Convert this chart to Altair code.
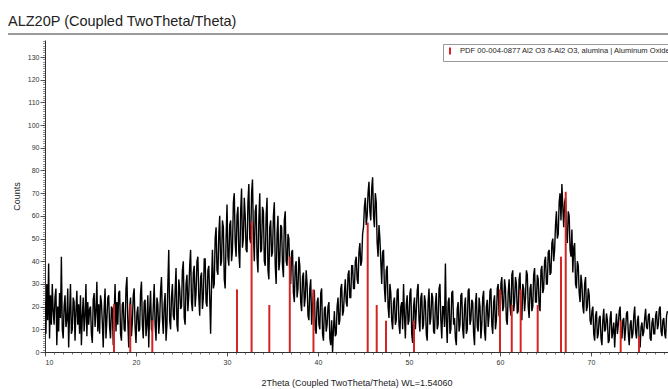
import altair as alt
import pandas as pd

TITLE = "ALZ20P (Coupled TwoTheta/Theta)"
X_TITLE = "2Theta (Coupled TwoTheta/Theta) WL=1.54060"
Y_TITLE = "Counts"
REF_NAME = "PDF 00-004-0877 Al2 O3 \u03b4-Al2 O3, alumina | Aluminum Oxide"

# scan grid (instrument step)
SCAN_START = 10.0
SCAN_STEP = 0.1

# counts, 10 per degree
counts = [
    22, 8, 30, 14, 39, 6, 25, 12, 30, 18,      # 10
    12, 24, 28, 3, 20, 9, 26, 15, 42, 10,      # 11
    6, 20, 25, 11, 14, 28, 2, 17, 30, 8,       # 12
    10, 24, 22, 5, 18, 27, 12, 21, 8, 25,      # 13
    3, 16, 24, 9, 16, 30, 7, 22, 12, 19,       # 14
    20, 8, 4, 23, 26, 11, 18, 31, 9, 21,       # 15
    8, 25, 22, 13, 2, 19, 28, 6, 14, 24,       # 16
    25, 11, 6, 20, 19, 3, 16, 30, 9, 22,       # 17
    12, 26, 27, 8, 5, 21, 22, 10, 9, 28,       # 18
    33, 14, 2, 19, 24, 7, 13, 25, 28, 11,      # 19
    4, 17, 20, 9, 10, 26, 31, 12, 6, 22,       # 20
    23, 7, 12, 25, 2, 18, 27, 10, 9, 20,       # 21
    30, 12, 5, 24, 21, 8, 14, 27, 33, 15,      # 22
    8, 21, 26, 5, 12, 30, 45, 14, 10, 24,      # 23
    30, 16, 14, 27, 37, 12, 9, 32, 28, 19,     # 24
    20, 36, 40, 15, 12, 30, 34, 18, 25, 38,    # 25
    45, 22, 18, 35, 38, 20, 26, 40, 42, 24,    # 26
    16, 33, 35, 19, 24, 41, 41, 22, 20, 36,    # 27
    38, 24, 8, 30, 45, 28, 30, 50, 55, 36,     # 28
    34, 52, 60, 38, 40, 58, 55, 32, 28, 50,    # 29
    65, 42, 38, 56, 58, 40, 45, 66, 70, 48,    # 30
    42, 60, 64, 44, 37, 62, 72, 46, 50, 68,    # 31
    60, 45, 44, 66, 74, 50, 48, 70, 76, 52,    # 32
    40, 62, 65, 42, 35, 58, 70, 44, 45, 64,    # 33
    62, 40, 38, 60, 68, 36, 32, 55, 58, 42,    # 34
    44, 60, 66, 38, 30, 52, 60, 36, 40, 56,    # 35
    55, 38, 33, 58, 62, 40, 38, 52, 50, 34,    # 36
    30, 44, 45, 26, 22, 38, 40, 24, 28, 42,    # 37
    38, 22, 18, 33, 35, 20, 24, 36, 30, 16,    # 38
    14, 28, 32, 12, 20, 27, 27, 10, 8, 22,     # 39
    24, 12, 10, 26, 28, 8, 5, 19, 20, 9,       # 40
    12, 20, 22, 6, 3, 14, 0, 10, 18, 7,        # 41
    8, 20, 24, 12, 14, 28, 30, 16, 18, 26,     # 42
    32, 22, 20, 34, 36, 24, 24, 38, 38, 28,    # 43
    28, 40, 42, 32, 30, 44, 48, 38, 40, 52,    # 44
    55, 64, 68, 56, 60, 70, 75, 62, 58, 72,    # 45
    77, 60, 55, 70, 66, 48, 42, 56, 50, 40,    # 46
    30, 44, 45, 28, 22, 36, 38, 20, 15, 30,    # 47
    26, 14, 10, 22, 24, 12, 14, 27, 28, 12,    # 48
    8, 20, 22, 10, 30, 16, 6, 21, 25, 12,      # 49
    14, 26, 28, 8, 4, 20, 24, 10, 18, 27,      # 50
    30, 14, 9, 24, 26, 10, 12, 25, 22, 8,      # 51
    5, 22, 28, 12, 15, 26, 24, 9, 8, 21,       # 52
    26, 10, 12, 28, 30, 14, 6, 20, 20, 11,     # 53
    39, 14, 4, 22, 24, 8, 10, 26, 27, 12,      # 54
    15, 6, 3, 19, 22, 9, 12, 25, 26, 10,       # 55
    6, 20, 24, 8, 10, 27, 28, 12, 14, 23,      # 56
    22, 8, 3, 21, 26, 11, 9, 24, 20, 6,        # 57
    12, 24, 27, 9, 5, 20, 23, 11, 16, 27,      # 58
    28, 12, 8, 22, 25, 10, 14, 28, 30, 16,     # 59
    15, 30, 33, 18, 20, 32, 28, 14, 12, 26,    # 60
    32, 20, 16, 34, 36, 18, 22, 33, 30, 17,    # 61
    18, 32, 35, 16, 14, 30, 28, 18, 24, 36,    # 62
    34, 20, 15, 28, 30, 18, 20, 34, 37, 22,    # 63
    22, 34, 32, 20, 18, 36, 38, 26, 28, 40,    # 64
    42, 30, 30, 44, 45, 34, 35, 48, 50, 40,    # 65
    45, 56, 62, 50, 52, 66, 70, 58, 74, 64,    # 66
    55, 66, 68, 52, 48, 62, 60, 45, 42, 54,    # 67
    35, 46, 48, 30, 28, 40, 38, 26, 22, 34,    # 68
    30, 20, 17, 30, 33, 18, 20, 28, 25, 14,    # 69
    12, 18, 20, 8, 5, 16, 18, 6, 8, 15,        # 70
    16, 6, 3, 14, 19, 9, 10, 17, 14, 4,        # 71
    5, 15, 18, 6, 9, 13, 2, 11, 17, 8,         # 72
    12, 18, 20, 7, 6, 14, 15, 5, 10, 17,       # 73
    18, 8, 3, 12, 14, 6, 8, 16, 20, 9,         # 74
    6, 14, 16, 4, 2, 11, 13, 7, 9, 15,         # 75
    19, 11, 10, 16, 17, 6, 5, 13, 15, 8,       # 76
    8, 16, 18, 10, 12, 19, 20, 9, 7, 14,       # 77
    15, 8, 6, 16, 18,                          # 78
]

# reference stick pattern
ref_pos = [17.58, 19.37, 21.79, 31.1, 32.7, 34.65, 36.9, 39.5, 45.46, 46.45,
           47.47, 50.55, 60.0, 61.29, 62.27, 64.14, 66.7, 67.22, 73.26, 75.27]
ref_int = [21, 21, 14, 27.6, 57.4, 20.7, 42, 27.6, 57, 20.7,
           13.8, 13.8, 27.6, 20.7, 27.6, 20.7, 42, 70.6, 13.8, 6.8]

x_major = list(range(10, 80, 10))
x_minor = list(range(10, 79))
y_major = list(range(0, 140, 10))
y_minor = list(range(0, 138))

scan = pd.DataFrame({
    "x": [round(SCAN_START + SCAN_STEP * i, 2) for i in range(len(counts))],
    "y": counts,
})
refs = pd.DataFrame({"x": ref_pos, "y0": [0] * len(ref_pos), "y": ref_int,
                     "phase": [REF_NAME] * len(ref_pos)})

FONT = "Liberation Sans"
xscale = alt.Scale(domain=[10, 78.46], nice=False, zero=False)
yscale = alt.Scale(domain=[0, 137.5], nice=False, zero=False)

xaxis = alt.Axis(
    values=x_major, orient="bottom", tickSize=4,
    labelFontSize=7, labelColor="#333", labelFont=FONT, labelPadding=2,
    domainColor="#333", tickColor="#333", tickWidth=0.8, grid=False,
    title=X_TITLE, titleFont=FONT, titleFontSize=9, titleFontWeight="normal",
    titleColor="#222", titlePadding=13, labelOverlap=False,
)
yaxis = alt.Axis(
    values=y_major, orient="left", tickSize=5,
    labelFontSize=7, labelColor="#333", labelFont=FONT, labelPadding=1,
    domainColor="#333", tickColor="#333", tickWidth=0.8, grid=False,
    title=Y_TITLE, titleFont=FONT, titleFontSize=9, titleFontWeight="normal",
    titleColor="#222", titlePadding=6, labelOverlap=False,
)
xaxis_minor = alt.Axis(values=x_minor, orient="bottom", tickSize=2, labels=False,
                       domain=False, tickColor="#333", tickWidth=0.7, grid=False,
                       title=None)
yaxis_minor = alt.Axis(values=y_minor, orient="left", tickSize=2.5, labels=False,
                       domain=False, tickColor="#444", tickWidth=0.6, grid=False,
                       title=None)

line = alt.Chart(scan).mark_line(color="#000", strokeWidth=1.4, clip=True).encode(
    x=alt.X("x:Q", scale=xscale, axis=xaxis),
    y=alt.Y("y:Q", scale=yscale, axis=yaxis),
)

minor = alt.Chart(scan).mark_point(opacity=0).encode(
    x=alt.X("x:Q", scale=xscale, axis=xaxis_minor),
    y=alt.Y("y:Q", scale=yscale, axis=yaxis_minor),
)

sticks = alt.Chart(refs).mark_rule(strokeWidth=2, clip=True).encode(
    x=alt.X("x:Q", scale=xscale, axis=None),
    y=alt.Y("y0:Q", scale=yscale, axis=None),
    y2="y:Q",
    color=alt.Color("phase:N", scale=alt.Scale(range=["#d42424"]),
                    legend=alt.Legend(
                        title=None, orient="none", legendX=398, legendY=4,
                        symbolType="M0,-1L0,1", symbolSize=50, symbolStrokeWidth=2,
                        strokeColor="#999", padding=2, labelFontSize=7.6,
                        labelFont=FONT, labelColor="#222", labelLimit=500,
                        fillColor="white", labelOffset=5,
                    )),
)

header_rule = alt.Chart(scan).mark_rule(color="#9a9a9a", strokeWidth=2, clip=False).encode(
    x=alt.value(-37), x2=alt.value(700), y=alt.value(-6)
)

chart = alt.layer(minor, line, sticks, header_rule).resolve_axis(
    x="independent", y="independent"
).properties(
    width=623, height=312,
    padding={"left": 45, "top": 40, "right": 0, "bottom": 37},
    autosize="none",
    background="white",
    title=alt.Title(TITLE, anchor="start", frame="group", fontSize=14.5, font=FONT,
                    fontWeight="normal", color="#222", dx=-37, offset=15, dy=22,
                    baseline="alphabetic"),
).configure_view(stroke=None)

chart.save("out.html", embed_options={"renderer": "svg", "actions": False})
